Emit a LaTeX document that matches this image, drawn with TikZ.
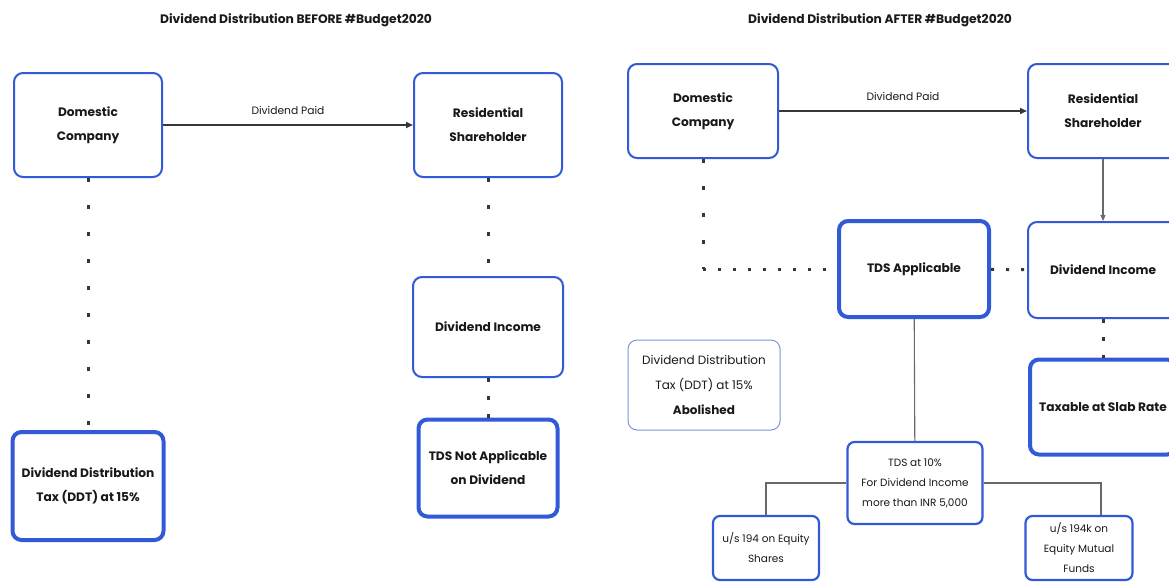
\documentclass[tikz,border=0pt]{standalone}
\usepackage{fontspec}
\setmainfont{Poppins}
\usetikzlibrary{arrows.meta, positioning}
\definecolor{ddblue}{RGB}{50,90,215}
\definecolor{ddlight}{RGB}{125,150,220}
\definecolor{ddhead}{RGB}{25,25,25}
\definecolor{ddline}{RGB}{55,55,55}
\definecolor{ddgrey}{RGB}{105,105,105}
\tikzset{
  entity/.style   = {rectangle, rounded corners=9pt, draw=ddblue, line width=2pt,
                     fill=white, text=ddhead, align=center,
                     minimum width=148pt, minimum height=100pt,
                     font=\fontsize{12.2}{24}\selectfont\bfseries, inner sep=3pt},
  outcome/.style  = {entity, line width=4pt},
  oldrule/.style  = {entity, draw=ddlight, line width=1pt,
                     font=\fontsize{12}{25}\selectfont},
  section/.style  = {rectangle, rounded corners=7pt, draw=ddblue, line width=2.2pt,
                     fill=white, text=ddhead, align=center,
                     font=\fontsize{10.5}{20}\selectfont, inner sep=2pt},
  heading/.style  = {font=\fontsize{12.3}{15}\selectfont\bfseries, text=ddhead},
  paid/.style     = {-{Triangle[length=7pt,width=6pt]}, line width=2.8pt, draw=ddline},
  paidlab/.style  = {font=\fontsize{10.7}{13}\selectfont, text=ddhead},
  feed/.style     = {-{Triangle[length=6pt,width=5pt]}, line width=1.2pt, draw=ddgrey},
  vdots/.style    = {line width=3pt, draw=ddline, dash pattern=on 4pt off 23pt},
  hdots/.style    = {line width=3pt, draw=ddline, dash pattern=on 3pt off 12pt},
  tree/.style     = {line width=1.1pt, draw=ddgrey},
}
\begin{document}
\begin{tikzpicture}[x=1pt, y=-1pt]
\useasboundingbox (0,0) rectangle (1169,582);

% ---------- Before #Budget2020 ----------
\node[heading] (titlebefore) at (296,20) {Dividend Distribution BEFORE \#Budget2020};
\node[entity, minimum height=104pt] (company) at (88,125) {Domestic\\Company};
\node[entity, minimum height=104pt] (holder) at (488,125) {Residential\\Shareholder};
\node[entity, minimum width=150pt] (income) at (488,327) {Dividend Income};
\node[outcome, minimum width=139pt, minimum height=97pt] (notds) at (488,468) {TDS Not Applicable\\on Dividend};
\node[outcome, minimum width=151pt, minimum height=108pt] (ddt) at (88,486) {Dividend Distribution\\Tax (DDT) at 15\%};

\draw[paid] (company) -- node[paidlab, above=6pt]{Dividend Paid} (holder);
\draw[vdots] (company) -- (ddt);
\draw[vdots] (holder) -- (income);
\draw[vdots, dash pattern=on 4pt off 14pt] (income) -- (notds);

% ---------- After #Budget2020 ----------
\node[heading] (titleafter) at (880,20) {Dividend Distribution AFTER \#Budget2020};
\node[entity, minimum width=150pt, minimum height=94pt] (company2) at (703,111) {Domestic\\Company};
\node[entity, minimum width=150pt, minimum height=94pt] (holder2) at (1103,111) {Residential\\Shareholder};
\node[entity, minimum width=150pt, minimum height=96pt] (income2) at (1103,270) {Dividend Income};
\node[outcome, minimum width=150pt, minimum height=96pt] (tds) at (914,269) {TDS Applicable};
\node[outcome, minimum width=146pt, minimum height=95pt] (slab) at (1103,407) {Taxable at Slab Rate};
\node[oldrule, minimum width=152pt, minimum height=90pt] (abolished) at (704,385)
  {Dividend Distribution\\Tax (DDT) at 15\%\\\textbf{Abolished}};
\node[section, minimum width=135pt, minimum height=82pt] (tds10) at (915,483)
  {TDS at 10\%\\For Dividend Income\\more than INR 5,000};
\node[section, minimum width=106pt, minimum height=64pt] (s194) at (766,548) {u/s 194 on Equity\\Shares};
\node[section, minimum width=107pt, minimum height=64pt] (k194) at (1079,548) {u/s 194k on\\Equity Mutual\\Funds};
\coordinate (bend) at (company2 |- tds);

\draw[paid] (company2) -- node[paidlab, above=6pt]{Dividend Paid} (holder2);
\draw[feed] (holder2) -- (income2);
\draw[vdots] (company2) -- (bend);
\draw[hdots] (bend) -- (tds);
\draw[hdots] (tds) -- (income2);
\draw[vdots, dash pattern=on 4pt off 14pt] (income2) -- (slab);
\draw[tree] (tds) -- (tds10);
\draw[tree] (tds10.west) -| (s194.north);
\draw[tree] (tds10.east) -| ([xshift=22pt]k194.north);

\end{tikzpicture}
\end{document}
